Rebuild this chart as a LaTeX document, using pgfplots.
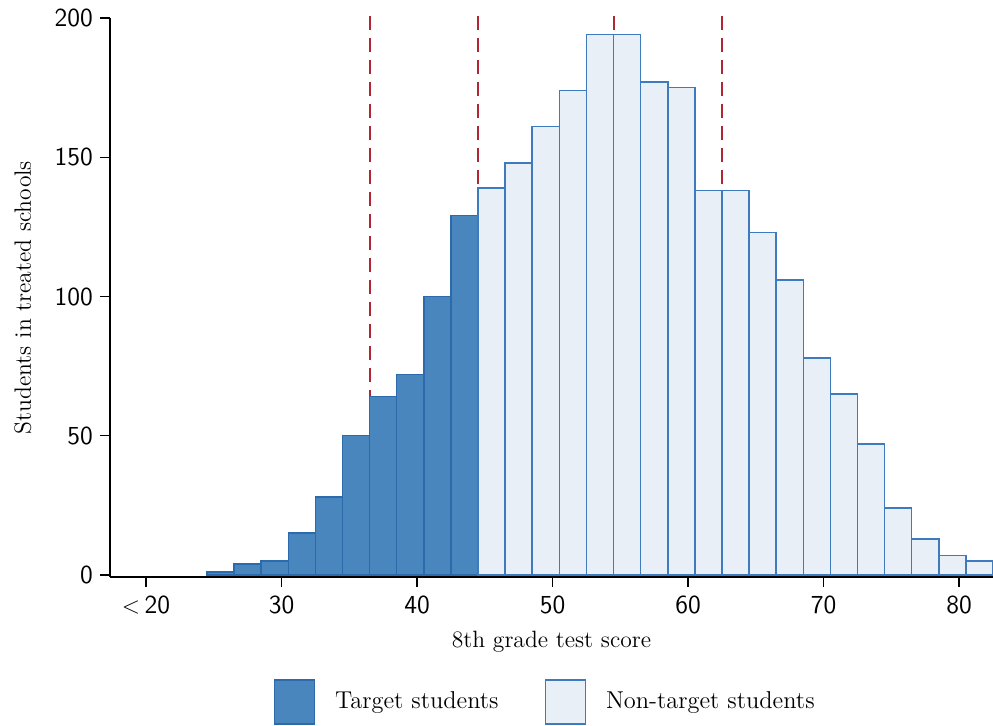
\documentclass[border=0pt]{standalone}
\usepackage{fontspec}
\usepackage{pgfplots}
\pgfplotsset{compat=1.18}
\usetikzlibrary{calc}
\definecolor{darkfill}{RGB}{74,134,190}
\definecolor{darkedge}{RGB}{44,106,174}
\definecolor{lightfill}{RGB}{232,239,247}
\definecolor{lightedge}{RGB}{62,122,190}
\definecolor{refred}{RGB}{178,38,52}
\pgfplotsset{sqlegend/.style={legend image code/.code={\draw[##1,line width=0.7pt] (0pt,-11pt) rectangle (20pt,11pt);}}}
\begin{document}
\begin{tikzpicture}
\begin{axis}[
  scale only axis, width=441.5pt, height=279.5pt,
  xmin=17.343, xmax=82.5, ymin=-0.72, ymax=200,
  axis x line=bottom, axis y line=left,
  axis line style={-, black, line width=0.7pt},
  tick align=outside, major tick length=5pt,
  tick style={black, line width=0.7pt},
  xtick={20,30,40,50,60,70,80},
  xticklabels={$<$\,20,30,40,50,60,70,80},
  ytick={0,50,100,150,200},
  ticklabel style={font=\sffamily\fontsize{13}{15}\selectfont},
  xticklabel style={yshift=-1pt},
  /pgf/number format/assume math mode=true,
  xlabel={8th grade test score},
  ylabel={Students in treated schools},
  xlabel style={at={(axis description cs:0.5,-0.127)}, anchor=base, font=\fontsize{11.8}{14}\selectfont},
  ylabel style={at={(axis description cs:-0.0895,0.5)}, anchor=base, rotate=0, font=\fontsize{11.8}{14}\selectfont},
  clip=false,
  legend columns=2,
  legend style={at={(axis description cs:0.494,-0.2236)}, anchor=center, draw=none, fill=none,
    font=\fontsize{12.2}{14}\selectfont,
    /tikz/every even column/.append style={column sep=21pt},
    /tikz/every odd column/.append style={column sep=8pt}},
]
\addplot[refred, line width=1pt, dash pattern=on 7pt off 4pt, forget plot] coordinates {(36.5,200.7) (36.5,0)};
\addplot[refred, line width=1pt, dash pattern=on 7pt off 4pt, forget plot] coordinates {(44.5,200.7) (44.5,0)};
\addplot[refred, line width=1pt, dash pattern=on 7pt off 4pt, forget plot] coordinates {(54.5,200.7) (54.5,0)};
\addplot[refred, line width=1pt, dash pattern=on 7pt off 4pt, forget plot] coordinates {(62.5,200.7) (62.5,0)};
\addplot[ybar, bar width=2, bar shift=0pt, fill=darkfill, draw=darkedge, line width=0.75pt, sqlegend]
  coordinates {(25.5,1) (27.5,4) (29.5,5) (31.5,15) (33.5,28) (35.5,50) (37.5,64) (39.5,72) (41.5,100) (43.5,129)};
\addlegendentry{Target students}
\addplot[ybar, bar width=2, bar shift=0pt, fill=lightfill, draw=lightedge, line width=0.75pt, sqlegend]
  coordinates {(45.5,139) (47.5,148) (49.5,161) (51.5,174) (53.5,194) (55.5,194) (57.5,177) (59.5,175) (61.5,138) (63.5,138) (65.5,123) (67.5,106) (69.5,78) (71.5,65) (73.5,47) (75.5,24) (77.5,13) (79.5,7) (81.5,5)};
\addlegendentry{Non-target students}
\end{axis}
\pgfresetboundingbox
\path ($(current axis.south west)+(-55pt,-74.5pt)$) rectangle ($(current axis.north east)+(0pt,9pt)$);
\end{tikzpicture}
\end{document}
